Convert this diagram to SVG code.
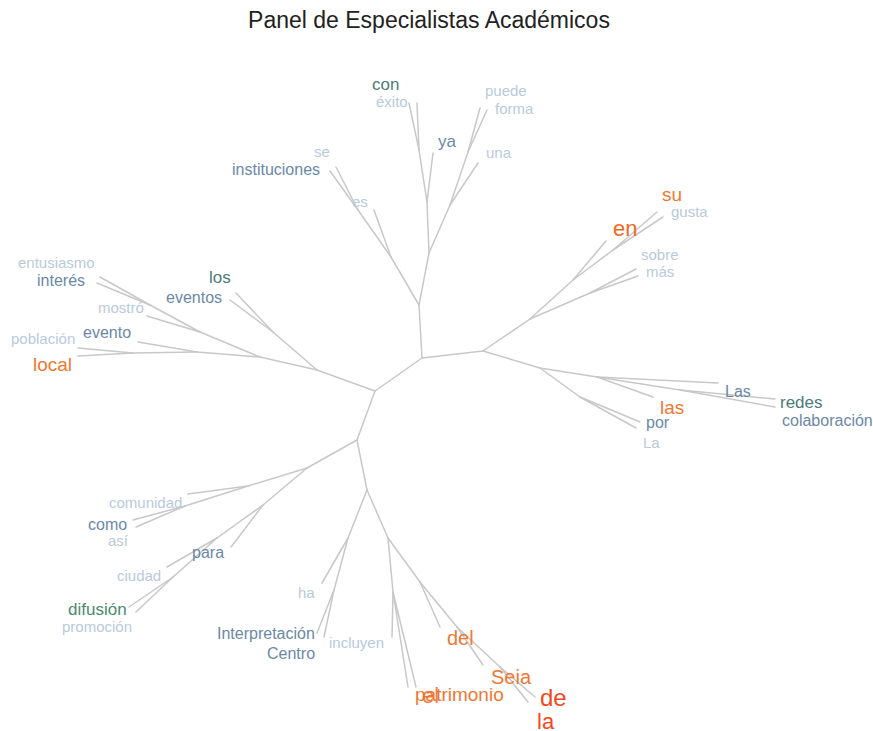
<svg xmlns="http://www.w3.org/2000/svg" width="873" height="731" viewBox="0 0 873 731">
<style>
text{font-family:"Liberation Sans",Arial,sans-serif}
.e line{stroke:#c8c8c8;stroke-width:1.5;fill:none;stroke-linecap:round}
.l{fill:#b9cadd}
.m{fill:#6b88a8}
.t{fill:#4c7c78}
.g{fill:#4a8a72}
.o{fill:#f07832}
.r{fill:#f4481c}
</style>
<rect width="873" height="731" fill="#fff"/>
<text x="429" y="28" text-anchor="middle" font-size="23" fill="#222">Panel de Especialistas Académicos</text>
<g id="connectors" class="e">
<line x1="422" y1="358" x2="419" y2="305"/>
<line x1="422" y1="358" x2="483" y2="351"/>
<line x1="422" y1="358" x2="375" y2="391"/>
<line x1="375" y1="391" x2="317" y2="370"/>
<line x1="375" y1="391" x2="357" y2="440"/>
<line x1="419" y1="305" x2="391" y2="257"/>
<line x1="391" y1="257" x2="374" y2="210"/>
<line x1="391" y1="257" x2="358" y2="210"/>
<line x1="358" y1="210" x2="330" y2="171"/>
<line x1="358" y1="210" x2="336" y2="167"/>
<line x1="419" y1="305" x2="429" y2="253"/>
<line x1="429" y1="253" x2="427" y2="202"/>
<line x1="427" y1="202" x2="433" y2="153"/>
<line x1="427" y1="202" x2="419" y2="150"/>
<line x1="419" y1="150" x2="409" y2="103"/>
<line x1="419" y1="150" x2="417" y2="103"/>
<line x1="429" y1="253" x2="450" y2="205"/>
<line x1="450" y1="205" x2="478" y2="163"/>
<line x1="450" y1="205" x2="468" y2="152"/>
<line x1="468" y1="152" x2="480" y2="108"/>
<line x1="468" y1="152" x2="487" y2="110"/>
<line x1="483" y1="351" x2="530" y2="319"/>
<line x1="530" y1="319" x2="573" y2="280"/>
<line x1="573" y1="280" x2="606" y2="241"/>
<line x1="573" y1="280" x2="613" y2="250"/>
<line x1="613" y1="250" x2="657" y2="212"/>
<line x1="613" y1="250" x2="663" y2="217"/>
<line x1="530" y1="319" x2="590" y2="293"/>
<line x1="590" y1="293" x2="636" y2="269"/>
<line x1="590" y1="293" x2="638" y2="276"/>
<line x1="483" y1="351" x2="540" y2="368"/>
<line x1="540" y1="368" x2="580" y2="397"/>
<line x1="580" y1="397" x2="640" y2="422"/>
<line x1="580" y1="397" x2="636" y2="428"/>
<line x1="540" y1="368" x2="597" y2="377"/>
<line x1="597" y1="377" x2="653" y2="397"/>
<line x1="597" y1="377" x2="718" y2="383"/>
<line x1="597" y1="377" x2="680" y2="390"/>
<line x1="680" y1="390" x2="775" y2="399"/>
<line x1="680" y1="390" x2="775" y2="407"/>
<line x1="317" y1="370" x2="273" y2="332"/>
<line x1="273" y1="332" x2="236" y2="293"/>
<line x1="273" y1="332" x2="230" y2="300"/>
<line x1="317" y1="370" x2="260" y2="357"/>
<line x1="260" y1="357" x2="200" y2="332"/>
<line x1="200" y1="332" x2="147" y2="316"/>
<line x1="200" y1="332" x2="150" y2="305"/>
<line x1="150" y1="305" x2="97" y2="283"/>
<line x1="150" y1="305" x2="100" y2="277"/>
<line x1="260" y1="357" x2="197" y2="352"/>
<line x1="197" y1="352" x2="138" y2="342"/>
<line x1="197" y1="352" x2="133" y2="353"/>
<line x1="133" y1="353" x2="78" y2="348"/>
<line x1="133" y1="353" x2="78" y2="356"/>
<line x1="357" y1="440" x2="307" y2="468"/>
<line x1="307" y1="468" x2="248" y2="486"/>
<line x1="248" y1="486" x2="188" y2="494"/>
<line x1="248" y1="486" x2="185" y2="506"/>
<line x1="185" y1="506" x2="133" y2="520"/>
<line x1="185" y1="506" x2="136" y2="527"/>
<line x1="307" y1="468" x2="263" y2="505"/>
<line x1="263" y1="505" x2="231" y2="547"/>
<line x1="263" y1="505" x2="217" y2="538"/>
<line x1="217" y1="538" x2="167" y2="567"/>
<line x1="217" y1="538" x2="173" y2="577"/>
<line x1="173" y1="577" x2="129" y2="607"/>
<line x1="173" y1="577" x2="136" y2="612"/>
<line x1="357" y1="440" x2="367" y2="490"/>
<line x1="367" y1="490" x2="348" y2="538"/>
<line x1="348" y1="538" x2="322" y2="583"/>
<line x1="348" y1="538" x2="334" y2="590"/>
<line x1="334" y1="590" x2="317" y2="633"/>
<line x1="334" y1="590" x2="324" y2="637"/>
<line x1="367" y1="490" x2="388" y2="538"/>
<line x1="388" y1="538" x2="393" y2="592"/>
<line x1="393" y1="592" x2="392" y2="637"/>
<line x1="393" y1="592" x2="408" y2="687"/>
<line x1="393" y1="592" x2="416" y2="687"/>
<line x1="388" y1="538" x2="420" y2="582"/>
<line x1="420" y1="582" x2="440" y2="627"/>
<line x1="420" y1="582" x2="457" y2="627"/>
<line x1="457" y1="627" x2="483" y2="665"/>
<line x1="457" y1="627" x2="500" y2="667"/>
<line x1="500" y1="667" x2="535" y2="697"/>
<line x1="500" y1="667" x2="528" y2="702"/>
</g>
<g id="n-con"><text x="372" y="90" font-size="17" class="t">con</text></g>
<g id="n-exito"><text x="376" y="107" font-size="15" class="l">éxito</text></g>
<g id="n-ya"><text x="438" y="147" font-size="17" class="m">ya</text></g>
<g id="n-puede"><text x="485" y="96" font-size="15" class="l">puede</text></g>
<g id="n-forma"><text x="495" y="114" font-size="15" class="l">forma</text></g>
<g id="n-una"><text x="486" y="158" font-size="15" class="l">una</text></g>
<g id="n-se"><text x="314" y="157" font-size="15" class="l">se</text></g>
<g id="n-instituciones"><text x="232" y="175" font-size="16" class="m">instituciones</text></g>
<g id="n-es"><text x="352" y="207" font-size="15" class="l">es</text></g>
<g id="n-su"><text x="662" y="201" font-size="19" class="o">su</text></g>
<g id="n-gusta"><text x="671" y="217" font-size="15" class="l">gusta</text></g>
<g id="n-en"><text x="613" y="236" font-size="22" fill="#ef6a1e">en</text></g>
<g id="n-sobre"><text x="641" y="260" font-size="15" class="l">sobre</text></g>
<g id="n-mas"><text x="646" y="277" font-size="15" class="l">más</text></g>
<g id="n-Las"><text x="725" y="397" font-size="16" class="m">Las</text></g>
<g id="n-redes"><text x="780" y="408" font-size="17" class="t">redes</text></g>
<g id="n-colaboracion"><text x="782" y="426" font-size="16" class="m">colaboración</text></g>
<g id="n-las"><text x="660" y="414" font-size="19" class="o">las</text></g>
<g id="n-por"><text x="646" y="428" font-size="16" class="m">por</text></g>
<g id="n-La"><text x="643" y="448" font-size="15" class="l">La</text></g>
<g id="n-entusiasmo"><text x="18" y="268" font-size="15" class="l">entusiasmo</text></g>
<g id="n-interes"><text x="37" y="286" font-size="16" class="m">interés</text></g>
<g id="n-los"><text x="209" y="283" font-size="17" class="t">los</text></g>
<g id="n-eventos"><text x="166" y="303" font-size="16" class="m">eventos</text></g>
<g id="n-mostro"><text x="98" y="313" font-size="15" class="l">mostró</text></g>
<g id="n-evento"><text x="83" y="338" font-size="16" class="m">evento</text></g>
<g id="n-poblacion"><text x="11" y="344" font-size="15" class="l">población</text></g>
<g id="n-local"><text x="33" y="371" font-size="19" class="o">local</text></g>
<g id="n-comunidad"><text x="109" y="508" font-size="15" class="l">comunidad</text></g>
<g id="n-como"><text x="88" y="530" font-size="16" class="m">como</text></g>
<g id="n-asi"><text x="108" y="546" font-size="15" class="l">así</text></g>
<g id="n-para"><text x="192" y="558" font-size="16" class="m">para</text></g>
<g id="n-ciudad"><text x="117" y="581" font-size="15" class="l">ciudad</text></g>
<g id="n-difusion"><text x="68" y="615" font-size="17" class="g">difusión</text></g>
<g id="n-promocion"><text x="62" y="632" font-size="15" class="l">promoción</text></g>
<g id="n-ha"><text x="298" y="598" font-size="15" class="l">ha</text></g>
<g id="n-interpretacion"><text x="217" y="639" font-size="16" class="m">Interpretación</text></g>
<g id="n-centro"><text x="267" y="659" font-size="16" class="m">Centro</text></g>
<g id="n-incluyen"><text x="329" y="648" font-size="15" class="l">incluyen</text></g>
<g id="n-del"><text x="447" y="645" font-size="20" class="o">del</text></g>
<g id="n-seia"><text x="491" y="684" font-size="20" class="o">Seia</text></g>
<g id="n-patrimonio"><text x="415" y="701" font-size="19" class="o">patrimonio</text></g>
<g id="n-el"><text x="422" y="703" font-size="22" fill="#f06a28" fill-opacity="0.85">el</text></g>
<g id="n-de"><text x="540" y="706" font-size="24" class="r">de</text></g>
<g id="n-la"><text x="537" y="729" font-size="22" class="r">la</text></g>
</svg>
